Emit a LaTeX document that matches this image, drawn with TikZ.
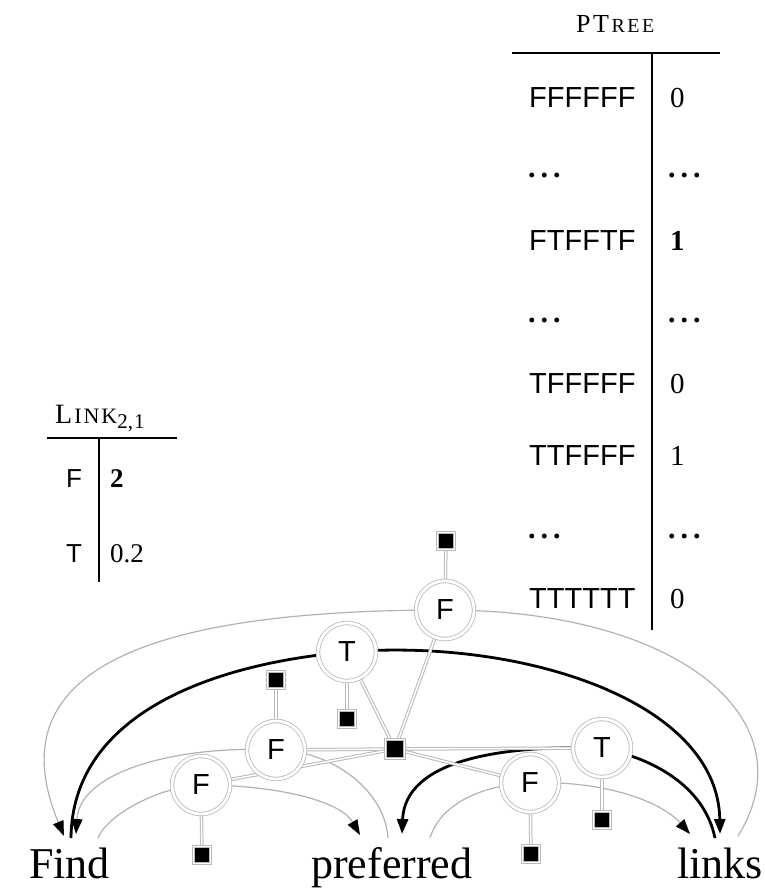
\documentclass[tikz,border=0pt]{standalone}
\usepackage{fontspec}
\setmainfont{Liberation Serif}
\newfontfamily\sff{Liberation Sans}
\usetikzlibrary{arrows.meta}
\newcommand{\fsz}[1]{\fontsize{#1}{#1}\selectfont}
\pgfdeclarelayer{arclayer}
\pgfdeclarelayer{linklayer}
\pgfsetlayers{arclayer,linklayer,main}
\begin{document}
\begin{tikzpicture}[x=1pt,y=-1pt,
  var/.style={circle, draw=gray!55, double=white, double distance=2.8pt, line width=0.8pt, fill=white, minimum size=58pt, inner sep=0pt, font=\sff\fsz{29}},
  fac/.style={rectangle, fill=black, draw=gray!55, double=white, double distance=1pt, line width=0.7pt, minimum size=17pt, inner sep=0pt},
  glink/.style={draw=gray!55, double=white, double distance=1.5pt, line width=1pt},
  garc/.style={draw=gray!60, line width=1.2pt},
  barc/.style={draw=black, line width=2.8pt},
  tip/.style={-{Triangle[length=15pt,width=11pt,color=black]}},
  word/.style={inner sep=0pt, anchor=base west, font=\fsz{44}},
  cell/.style={inner sep=0pt, anchor=base west},
  rule/.style={line width=1.5pt}
]
\useasboundingbox (0,0) rectangle (764,888);

% words
\node[word] (Find) at (29,878) {Find};
\node[word] (pref) at (311,878) {preferred};
\node[word] (links) at (677,878) {links};

% variables
\node[var] (F1) at (445,610) {F};
\node[var] (T1) at (347,652) {T};
\node[var] (F2) at (276,750) {F};
\node[var] (F3) at (201,785) {F};
\node[var] (F4) at (530,783) {F};
\node[var] (T2) at (602,748) {T};

% factors
\node[fac, minimum size=19pt] (sc) at (395,749) {};
\node[fac] (s1) at (446,541) {};
\node[fac] (s2) at (347,719) {};
\node[fac] (s3) at (276,680) {};
\node[fac] (s4) at (202,855) {};
\node[fac] (s5) at (531,854) {};
\node[fac] (s6) at (602,820) {};

% arc end points
\coordinate (a1s) at (738,836);
\coordinate (a1e) at (64,836);
\coordinate (a2s) at (71,838);
\coordinate (a2e) at (720,834);
\coordinate (a3s) at (388,838);
\coordinate (a3e) at (76,834);
\coordinate (a4s) at (98,838);
\coordinate (a4e) at (360,835);
\coordinate (a5s) at (715,838);
\coordinate (a5e) at (402,834);
\coordinate (a6s) at (430,838);
\coordinate (a6e) at (690,834);

% arcs
\begin{pgfonlayer}{arclayer}
\draw[garc, tip] (a1s) .. controls (810,720) and (680,610) .. (F1.center) .. controls (164,610) and (-8,663) .. (a1e);
\draw[barc, tip] (a2s) .. controls (72,720) and (200,665) .. (T1.center) .. controls (520,638) and (718,700) .. (a2e);
\draw[garc, tip] (a3s) .. controls (385,790) and (331,750) .. (F2.center) .. controls (181,745) and (80,770) .. (a3e);
\draw[garc, tip] (a4s) .. controls (110,810) and (169,785) .. (F3.center) .. controls (274,785) and (340,800) .. (a4e);
\draw[barc, tip] (a5s) .. controls (705,790) and (660,760) .. (T2.center) .. controls (500,745) and (405,760) .. (a5e);
\draw[garc, tip] (a6s) .. controls (440,805) and (480,785) .. (F4.center) .. controls (600,780) and (660,800) .. (a6e);
\end{pgfonlayer}

% factor edges
\begin{pgfonlayer}{linklayer}
\foreach \v in {F1,T1,F2,F3,F4,T2} \draw[glink] (sc) -- (\v);
\draw[glink] (s1) -- (F1);
\draw[glink] (s2) -- (T1);
\draw[glink] (s3) -- (F2);
\draw[glink] (s4) -- (F3);
\draw[glink] (s5) -- (F4);
\draw[glink] (s6) -- (T2);
\end{pgfonlayer}

% PTREE table
\node[cell] (pt) at (576,33) {\fsz{26}P\kern2.5pt T\kern2.5pt{\fsz{20}R\kern2.5pt E\kern2.5pt E}};
\draw[rule] (512,53) -- (720,53);
\draw[rule] (652,53) -- (652,630);
\foreach \y/\l/\r [count=\i] in {107/FFFFFF/0, 393/TFFFFF/0, 465/TTFFFF/1, 608/TTTTTT/0}{
  \node[cell, font=\sff\fsz{29}] (pl\i) at (529,\y) {\l};
  \node[cell, font=\fsz{29}] (pr\i) at (670,\y) {\r};
}
\node[cell, font=\sff\fsz{29}] (plb) at (529,250) {FTFFTF};
\node[cell, font=\fsz{29}\bfseries] (prb) at (670,250) {1};
\foreach \y [count=\i] in {177,322,538}{
  \node[cell, font=\fsz{30}\bfseries] (dl\i) at (528,\y) {.\kern5pt.\kern5pt.};
  \node[cell, font=\fsz{30}\bfseries] (dr\i) at (668,\y) {.\kern5pt.\kern5pt.};
}

% LINK table
\node[cell] (lk) at (55,423) {\fsz{28}L\kern2pt{\fsz{22}I\kern2pt N\kern2pt K}{\fsz{21}\raisebox{-5pt}{2,\kern1pt 1}}};
\draw[rule] (47,438) -- (177,438);
\draw[rule] (99,438) -- (99,582);
\node[cell, font=\sff\fsz{26}] (lf) at (66,487) {F};
\node[cell, font=\fsz{27}\bfseries] (lv1) at (110,487) {2};
\node[cell, font=\sff\fsz{26}] (lt) at (66,562) {T};
\node[cell, font=\fsz{27}] (lv2) at (110,562) {0.2};
\end{tikzpicture}
\end{document}
